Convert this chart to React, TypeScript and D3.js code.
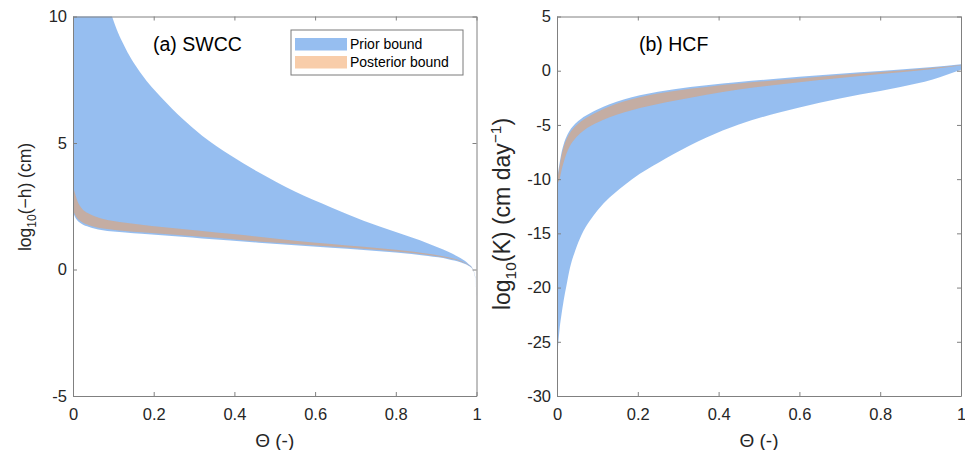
import React, { useEffect, useRef } from "react";
import * as d3 from "d3";

// ---------- Panel (a) SWCC ----------
const thetaA = [0, 0.005, 0.01, 0.02, 0.04, 0.07, 0.1, 0.13, 0.17, 0.22, 0.27, 0.32, 0.39, 0.46, 0.55, 0.64, 0.72, 0.8, 0.88, 0.93, 0.96, 0.98, 0.99, 0.997, 1];
const priorUpperA = [40, 35, 30, 22, 16, 11.6, 9.85, 8.75, 7.72, 6.78, 5.98, 5.29, 4.52, 3.84, 3.08, 2.45, 1.93, 1.48, 1.03, 0.7, 0.45, 0.22, 0.05, -0.3, -1.0];
const priorLowerA = [2.25, 2.08, 1.96, 1.82, 1.68, 1.56, 1.5, 1.46, 1.41, 1.35, 1.29, 1.23, 1.15, 1.06, 0.96, 0.86, 0.77, 0.67, 0.53, 0.41, 0.29, 0.15, 0.02, -0.35, -1.05];
const postUpperA = [3.3, 3.0, 2.75, 2.45, 2.2, 2.02, 1.92, 1.85, 1.77, 1.68, 1.6, 1.52, 1.41, 1.29, 1.14, 1.01, 0.9, 0.78, 0.62, 0.48, 0.35, 0.19, 0.05, -0.32, -1.0];
const postLowerA = [2.35, 2.16, 2.04, 1.9, 1.75, 1.63, 1.57, 1.52, 1.47, 1.41, 1.35, 1.29, 1.21, 1.11, 1.01, 0.91, 0.82, 0.71, 0.57, 0.44, 0.32, 0.17, 0.04, -0.33, -1.02];

// ---------- Panel (b) HCF ----------
const thetaB = [0, 0.003, 0.007, 0.011, 0.016, 0.024, 0.032, 0.045, 0.06, 0.082, 0.1, 0.13, 0.165, 0.205, 0.25, 0.29, 0.37, 0.45, 0.55, 0.65, 0.75, 0.85, 0.93, 1];
const priorUpperB = [-10.0, -9.3, -8.4, -7.6, -6.85, -6.05, -5.5, -4.9, -4.42, -3.92, -3.58, -3.1, -2.65, -2.26, -1.93, -1.7, -1.34, -1.04, -0.72, -0.42, -0.14, 0.12, 0.35, 0.6];
const priorLowerB = [-26.5, -25.2, -23.6, -22.5, -21.3, -19.7, -18.2, -16.6, -15.2, -13.8, -12.9, -11.7, -10.6, -9.5, -8.5, -7.65, -6.15, -4.95, -3.85, -2.95, -2.2, -1.5, -0.8, 0.09];
const postUpperB = [-10.2, -9.55, -8.65, -7.85, -7.1, -6.3, -5.75, -5.15, -4.66, -4.15, -3.8, -3.31, -2.85, -2.45, -2.11, -1.87, -1.5, -1.19, -0.86, -0.55, -0.26, 0.02, 0.27, 0.53];
const postLowerB = [-10.4, -10.3, -9.9, -9.2, -8.5, -7.6, -6.95, -6.25, -5.7, -5.13, -4.77, -4.3, -3.85, -3.43, -3.06, -2.77, -2.22, -1.74, -1.27, -0.86, -0.49, -0.15, 0.15, 0.48];

const xTicks = [0, 0.2, 0.4, 0.6, 0.8, 1];
const yTicksA = [-5, 0, 5, 10];
const yTicksB = [-30, -25, -20, -15, -10, -5, 0, 5];
const legendLabels = ["Prior bound", "Posterior bound"];

const PRIOR_COLOR = "rgb(45,125,225)";
const POST_COLOR = "rgb(241,155,85)";
const FONT = "'Liberation Sans', Arial, Helvetica, sans-serif";

type PanelCfg = {
  id: string;
  x0: number; x1: number; y0: number; y1: number;
  yDomain: [number, number];
  yTicks: number[];
  theta: number[];
  pu: number[]; pl: number[]; qu: number[]; ql: number[];
  title: string; titleX: number;
};

export default function App() {
  const ref = useRef<SVGSVGElement | null>(null);

  useEffect(() => {
    const svg = d3.select(ref.current);
    svg.selectAll("*").remove();

    const panels: PanelCfg[] = [
      { id: "a", x0: 73, x1: 476.5, y0: 396, y1: 16.5, yDomain: [-5, 10], yTicks: yTicksA,
        theta: thetaA, pu: priorUpperA, pl: priorLowerA, qu: postUpperA, ql: postLowerA,
        title: "(a) SWCC", titleX: 153 },
      { id: "b", x0: 557, x1: 961, y0: 396, y1: 16.5, yDomain: [-30, 5], yTicks: yTicksB,
        theta: thetaB, pu: priorUpperB, pl: priorLowerB, qu: postUpperB, ql: postLowerB,
        title: "(b) HCF", titleX: 639 },
    ];

    const defs = svg.append("defs");

    panels.forEach((p) => {
      const x = d3.scaleLinear().domain([0, 1]).range([p.x0, p.x1]);
      const y = d3.scaleLinear().domain(p.yDomain).range([p.y0, p.y1]);

      defs.append("clipPath").attr("id", "clip-" + p.id)
        .append("rect")
        .attr("x", p.x0).attr("y", p.y1)
        .attr("width", p.x1 - p.x0).attr("height", p.y0 - p.y1);

      const g = svg.append("g");
      const plot = g.append("g").attr("clip-path", `url(#clip-${p.id})`);

      const idx = d3.range(p.theta.length);
      const priorArea = d3.area<number>()
        .x((i) => x(p.theta[i]))
        .y0((i) => y(p.pl[i]))
        .y1((i) => y(p.pu[i]))
        .curve(d3.curveMonotoneX);
      const postArea = d3.area<number>()
        .x((i) => x(p.theta[i]))
        .y0((i) => y(p.ql[i]))
        .y1((i) => y(p.qu[i]))
        .curve(d3.curveMonotoneX);

      plot.append("path").attr("d", priorArea(idx) || "")
        .attr("fill", PRIOR_COLOR).attr("fill-opacity", 0.5);
      plot.append("path").attr("d", postArea(idx) || "")
        .attr("fill", POST_COLOR).attr("fill-opacity", 0.5);

      const fmt = (d: d3.NumberValue) => String(+d);
      const styleAxis = (sel: any) => {
        sel.select(".domain").attr("stroke", "#808080");
        sel.selectAll(".tick line").attr("stroke", "#808080");
        sel.selectAll(".tick text").attr("fill", "#262626")
          .style("font-family", FONT).style("font-size", "16.5px");
      };

      const bottom = g.append("g").attr("transform", `translate(0,${p.y0})`)
        .call(d3.axisBottom(x).tickValues(xTicks).tickFormat(fmt).tickSizeInner(-4).tickSizeOuter(0).tickPadding(12));
      styleAxis(bottom);
      const top = g.append("g").attr("transform", `translate(0,${p.y1})`)
        .call(d3.axisTop(x).tickValues(xTicks).tickFormat(() => "").tickSizeInner(-4).tickSizeOuter(0));
      styleAxis(top);
      const left = g.append("g").attr("transform", `translate(${p.x0},0)`)
        .call(d3.axisLeft(y).tickValues(p.yTicks).tickFormat(fmt).tickSizeInner(-4).tickSizeOuter(0).tickPadding(6));
      styleAxis(left);
      const right = g.append("g").attr("transform", `translate(${p.x1},0)`)
        .call(d3.axisRight(y).tickValues(p.yTicks).tickFormat(() => "").tickSizeInner(-4).tickSizeOuter(0));
      styleAxis(right);

      // title
      g.append("text").attr("x", p.titleX).attr("y", 51)
        .style("font-family", FONT).style("font-size", "19.5px").attr("fill", "#000")
        .text(p.title);

      // x label
      g.append("text").attr("x", (p.x0 + p.x1) / 2).attr("y", 447)
        .attr("text-anchor", "middle")
        .style("font-family", FONT).style("font-size", "19px").attr("fill", "#262626")
        .text("\u0398 (-)");
    });

    // y labels
    const yl1 = svg.append("text")
      .attr("transform", "translate(31,197) rotate(-90)")
      .attr("text-anchor", "middle")
      .style("font-family", FONT).style("font-size", "17.5px").attr("fill", "#262626");
    yl1.append("tspan").text("log");
    yl1.append("tspan").attr("dy", 5).style("font-size", "12px").text("10");
    yl1.append("tspan").attr("dy", -5).text("(\u2212h) (cm)");

    const yl2 = svg.append("text")
      .attr("transform", "translate(510,214) rotate(-90)")
      .attr("text-anchor", "middle")
      .style("font-family", FONT).style("font-size", "23px").attr("fill", "#262626");
    yl2.append("tspan").text("log");
    yl2.append("tspan").attr("dy", 6).style("font-size", "15.5px").text("10");
    yl2.append("tspan").attr("dy", -6).text("(K) (cm day");
    yl2.append("tspan").attr("dy", -9).style("font-size", "15.5px").text("\u22121");
    yl2.append("tspan").attr("dy", 9).text(")");

    // legend
    const lg = svg.append("g");
    lg.append("rect").attr("x", 291).attr("y", 30).attr("width", 172).attr("height", 45)
      .attr("fill", "#fff").attr("stroke", "#7a7a7a").attr("stroke-width", 1);
    const colors = [PRIOR_COLOR, POST_COLOR];
    legendLabels.forEach((lab, i) => {
      lg.append("rect").attr("x", 295).attr("y", 38 + i * 18).attr("width", 52).attr("height", 12.5)
        .attr("fill", colors[i]).attr("fill-opacity", 0.5);
      lg.append("text").attr("x", 350).attr("y", 49 + i * 18)
        .style("font-family", FONT).style("font-size", "14px").attr("fill", "#000")
        .text(lab);
    });
  }, []);

  return (
    <svg ref={ref} width={965} height={450}
      style={{ position: "absolute", left: 0, top: 0, background: "#fff" }} />
  );
}
